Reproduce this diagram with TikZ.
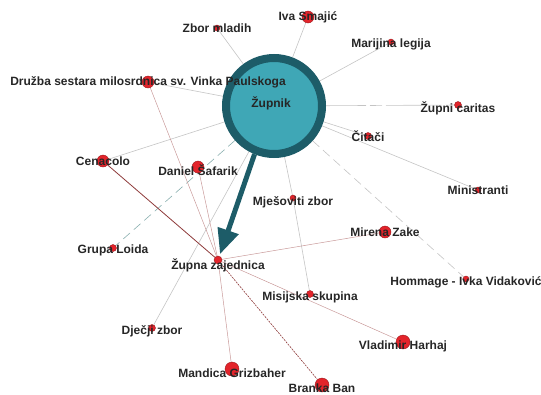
\documentclass[tikz,border=0pt]{standalone}
\usepackage{fontspec}
\setmainfont{Liberation Sans}
\usetikzlibrary{arrows.meta,backgrounds}
\definecolor{RingTeal}{HTML}{1D5C68}
\definecolor{FillTeal}{HTML}{3FA7B6}
\definecolor{DotRed}{HTML}{E3242B}
\definecolor{DotEdge}{HTML}{9A1A1E}
\definecolor{EdgeGray}{HTML}{C4C4C4}
\definecolor{EdgeRose}{HTML}{C99A9A}
\definecolor{EdgeWine}{HTML}{8E3A3A}

\begin{document}
\begin{tikzpicture}[x=1pt,y=-1pt,
    dot/.style={circle,fill=DotRed,draw=DotEdge,line width=.4pt,inner sep=0pt,minimum size=#1},
    dot/.default=7pt,
    lbl/.style={font=\fontsize{12}{13}\selectfont\bfseries,text=black!85,inner sep=0pt},
    gedge/.style={EdgeGray,line width=.6pt},
    redge/.style={EdgeRose,line width=.5pt},
    arr/.style={-{Triangle[width=21pt,length=25pt]},line width=5pt,RingTeal}]
    \useasboundingbox (0,0) rectangle (541,394);
    % central node
    \node[circle,fill=FillTeal,draw=RingTeal,line width=8pt,minimum size=96pt,
          label={[lbl,xshift=-3pt,yshift=3pt]center:Župnik}] (zupnik) at (274,106) {};
    % the other actors
    \node[dot=6pt,label={[lbl]center:Zbor mladih}] (mladi) at (217,28) {};
    \node[dot=12pt,label={[lbl]center:Iva Smajić}] (iva) at (308,17) {};
    \node[dot=6pt,label={[lbl,yshift=-2pt]center:Marijina legija}] (legija) at (391,42) {};
    \node[dot=12pt,label={[lbl]center:Družba sestara milosrdnica sv. Vinka Paulskoga}] (druzba) at (148,82) {};
    \node[dot,label={[lbl,yshift=-3pt]center:Župni caritas}] (caritas) at (458,105) {};
    \node[dot,label={[lbl]center:Čitači}] (citaci) at (368,136) {};
    \node[dot=6pt,label={[lbl]center:Ministranti}] (ministranti) at (478,190) {};
    \node[dot=12pt,label={[lbl]center:Cenacolo}] (cenacolo) at (103,161) {};
    \node[dot=12pt,label={[lbl,yshift=-3pt]center:Daniel Šafarik}] (safarik) at (198,167) {};
    \node[dot=6pt,label={[lbl,yshift=-4pt]center:Mješoviti zbor}] (mjesoviti) at (293,198) {};
    \node[dot,label={[lbl,yshift=-2pt]center:Grupa Loida}] (loida) at (113,248) {};
    \node[dot=8pt,label={[lbl,yshift=-5pt]center:Župna zajednica}] (zajednica) at (218,260) {};
    \node[dot=12pt,label={[lbl]center:Mirena Zake}] (mirena) at (385,232) {};
    \node[dot=6pt,label={[lbl,yshift=-3pt]center:Hommage - Ivka Vidaković}] (hommage) at (466,279) {};
    \node[dot,label={[lbl,yshift=-3pt]center:Misijska skupina}] (misijska) at (310,294) {};
    \node[dot,label={[lbl,yshift=-3pt]center:Dječji zbor}] (djecji) at (152,328) {};
    \node[dot=14pt,label={[lbl,yshift=-4pt]center:Vladimir Harhaj}] (harhaj) at (403,342) {};
    \node[dot=14pt,label={[lbl,yshift=-4pt]center:Mandica Grizbaher}] (grizbaher) at (232,369) {};
    \node[dot=14pt,label={[lbl,yshift=-3pt]center:Branka Ban}] (branka) at (322,385) {};
    % ties
    \begin{scope}[on background layer]
      \foreach \n in {mladi,iva,legija,druzba,citaci,ministranti,cenacolo,mjesoviti,djecji}
        \draw[gedge] (zupnik) -- (\n);
      \draw[gedge,dash pattern=on 40pt off 4pt on 12pt off 4pt] (zupnik) -- (caritas);
      \draw[gedge,dash pattern=on 9pt off 5pt] (zupnik) -- (hommage);
      \draw[gedge,color=EdgeGray!70!teal,dash pattern=on 9pt off 5pt] (zupnik) -- (loida);
      \draw[gedge] (mjesoviti) -- (misijska);
      \foreach \n in {druzba,safarik,mirena,harhaj,grizbaher}
        \draw[redge] (zajednica) -- (\n);
      \draw[EdgeWine,line width=.8pt] (cenacolo) -- (zajednica);
      \draw[EdgeWine,line width=.6pt,dash pattern=on 2pt off 1pt] (zajednica) -- (branka);
    \end{scope}
    \draw[arr,shorten >=2pt] (zupnik.-112) -- (zajednica);
\end{tikzpicture}
\end{document}
